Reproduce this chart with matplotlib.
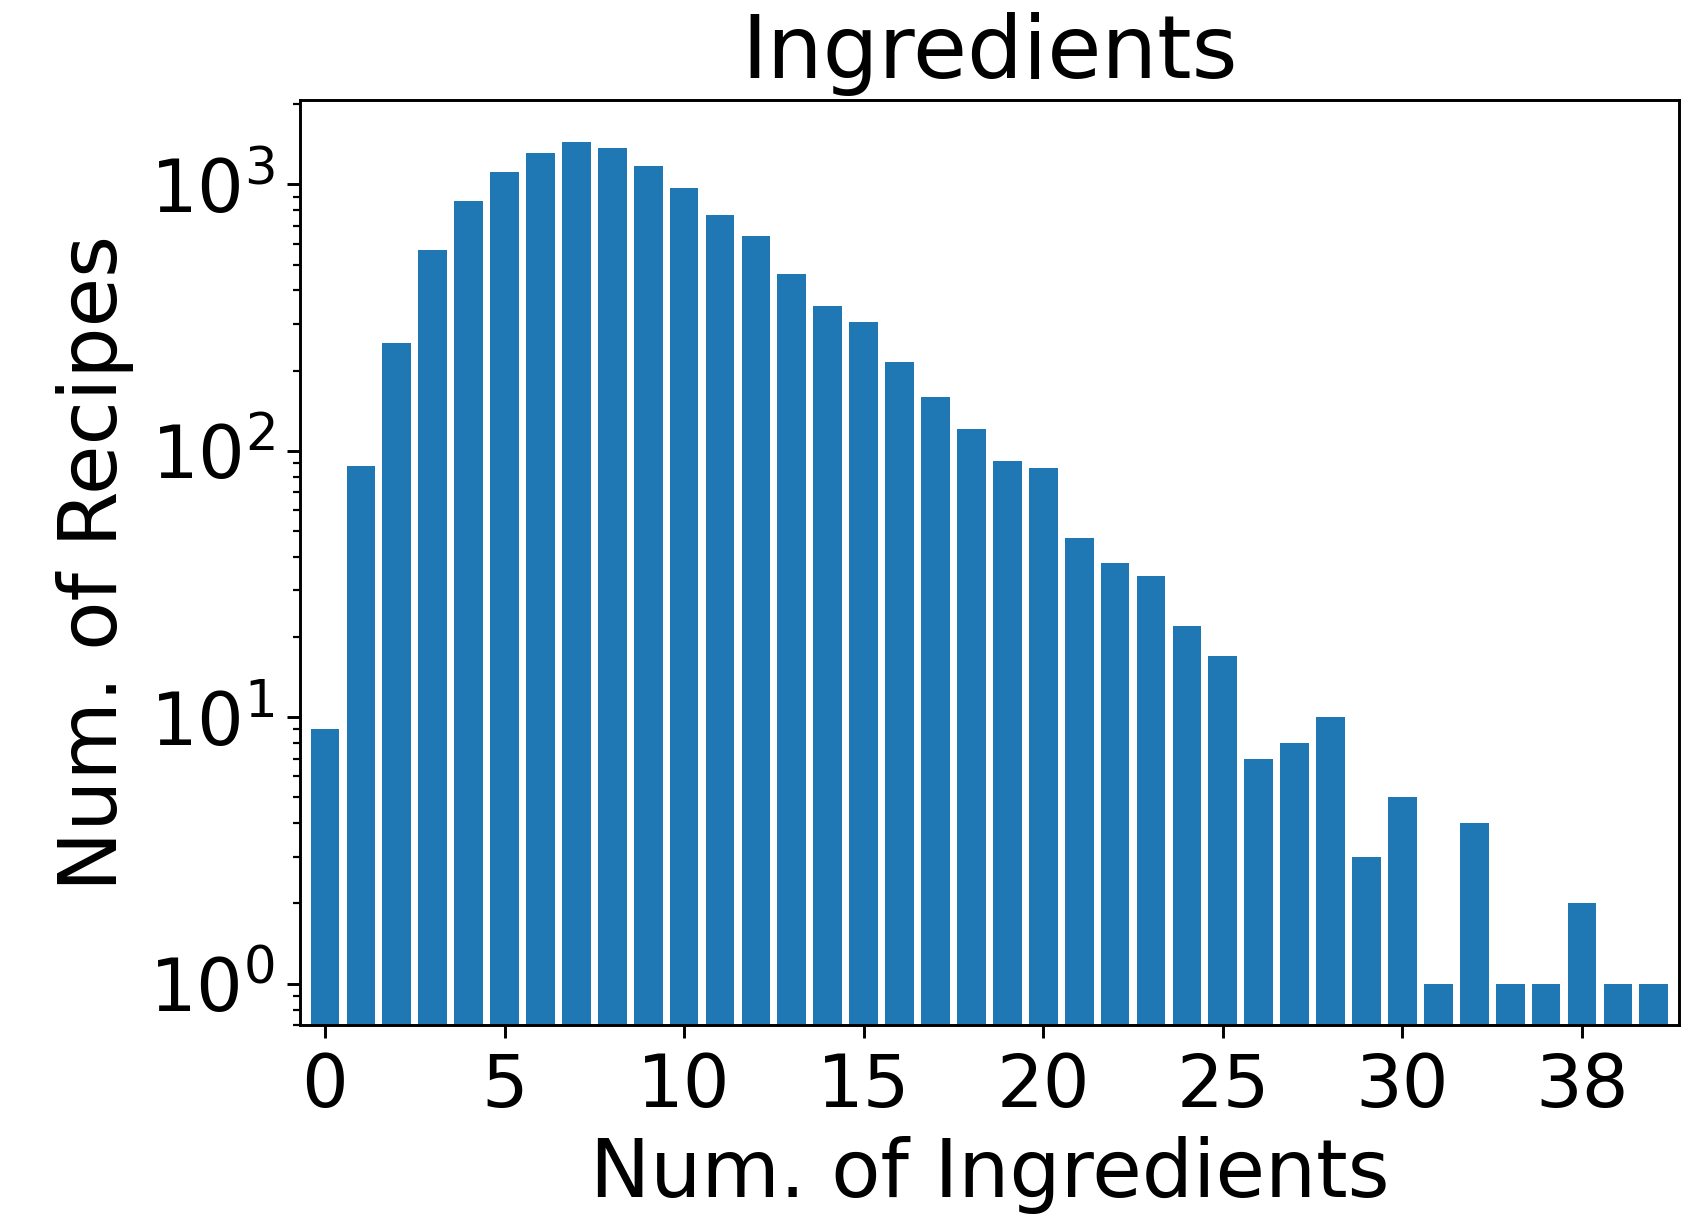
import numpy as np
import matplotlib.pyplot as plt

# number of ingredients per recipe (categories) and how many recipes have it
n_ingredients = list(range(31)) + [32, 33, 35, 36, 38, 39, 41]
n_recipes = [9, 88, 253, 569, 865, 1115, 1312, 1439, 1374, 1169,
             972, 771, 640, 462, 351, 305, 216, 159, 121, 92,
             86, 47, 38, 34, 22, 17, 7, 8, 10, 3,
             5, 1, 4, 1, 1, 2, 1, 1]

dpi = 264
fig, ax = plt.subplots(figsize=(1692 / dpi, 1217 / dpi), dpi=dpi)
fig.subplots_adjust(left=0.1772, right=0.9923, top=0.9176, bottom=0.1578)

x = np.arange(len(n_ingredients))
ax.bar(x, n_recipes, color="#1f77b4", log=True)

ax.set_xticks(x[::5])
ax.set_xticklabels([str(n_ingredients[i]) for i in x[::5]])
ax.set_xlim(-0.7, 37.7)
ax.set_ylim(0.70, 2070)

ax.tick_params(axis="both", which="major", labelsize=20)
ax.set_xlabel("Num. of Ingredients", fontsize=22)
ax.set_ylabel("Num. of Recipes", fontsize=22)
ax.set_title("Ingredients", fontsize=24)

fig.savefig("out.png", dpi=dpi)
